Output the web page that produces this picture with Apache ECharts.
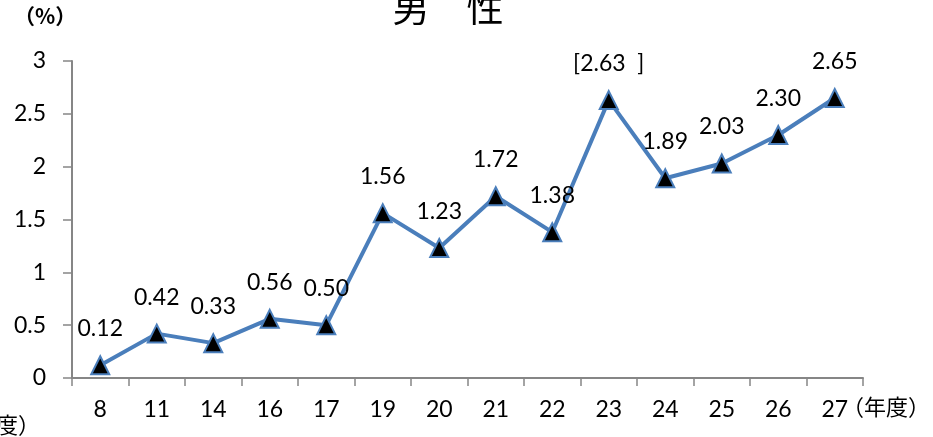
<!DOCTYPE html>
<html>
<head>
<meta charset="utf-8">
<script src="https://cdn.jsdelivr.net/npm/echarts@6/dist/echarts.min.js"></script>
<style>
  html, body { margin: 0; padding: 0; background: #fff; }
  #chart { width: 933px; height: 437px; }
</style>
</head>
<body>
<div id="chart"></div>
<script>
// 年度と男性の割合（%）
const years = ['8', '11', '14', '16', '17', '19', '20', '21', '22', '23', '24', '25', '26', '27'];
const values = [0.12, 0.42, 0.33, 0.56, 0.50, 1.56, 1.23, 1.72, 1.38, 2.63, 1.89, 2.03, 2.30, 2.65];
const yTicks = [0, 0.5, 1, 1.5, 2, 2.5, 3];

const font = 'Lato, "Noto Sans CJK JP", sans-serif';
const jpFont = '"Noto Sans CJK JP", sans-serif';
const chart = echarts.init(document.getElementById('chart'));

chart.setOption({
  backgroundColor: '#ffffff',
  animation: false,
  grid: { left: 72, right: 70, top: 61, bottom: 59 },
  xAxis: {
    type: 'category',
    data: years,
    boundaryGap: true,
    axisLine: { lineStyle: { color: '#868686', width: 2 } },
    axisTick: { show: true, length: 8, lineStyle: { color: '#868686', width: 1.5 } },
    axisLabel: { color: '#000', fontSize: 23, fontFamily: font, margin: 20 },
    splitLine: { show: false }
  },
  yAxis: {
    type: 'value',
    min: yTicks[0],
    max: yTicks[yTicks.length - 1],
    interval: 0.5,
    axisLine: { show: true, lineStyle: { color: '#868686', width: 2 } },
    axisTick: { show: true, length: 9, lineStyle: { color: '#868686', width: 1.5 } },
    axisLabel: { color: '#000', fontSize: 23, fontFamily: font, margin: 26 },
    splitLine: { show: false }
  },
  series: [{
    type: 'line',
    data: values,
    symbol: 'triangle',
    symbolSize: 18,
    itemStyle: { color: '#000', borderColor: '#4A7EBB', borderWidth: 2 },
    lineStyle: { color: '#4A7EBB', width: 4 },
    label: {
      show: true,
      position: 'top',
      distance: 15,
      color: '#000',
      fontSize: 23,
      fontFamily: font,
      formatter: p => p.dataIndex === 9 ? '[' + p.value.toFixed(2) + '  ]' : p.value.toFixed(2)
    }
  }],
  graphic: [
    { type: 'text', x: 448, y: -11, style: { text: '男　性', align: 'center', fontSize: 37, fontFamily: jpFont, fill: '#000' } },
    { type: 'text', left: 14, top: 6, style: { text: '（%）', fontSize: 21, fontWeight: 'bold', fontFamily: jpFont, fill: '#000' } },
    { type: 'text', left: 842, top: 396, style: { text: '（年度）', fontSize: 22, fontFamily: jpFont, fill: '#000' } },
    { type: 'text', left: -48, top: 414, style: { text: '（年度）', fontSize: 22, fontFamily: jpFont, fill: '#000' } }
  ]
});
</script>
</body>
</html>
